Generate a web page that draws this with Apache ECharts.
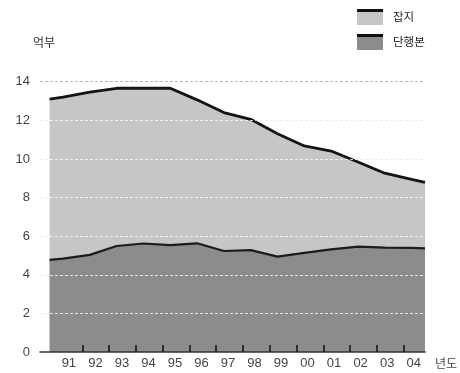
<!DOCTYPE html>
<html>
<head>
<meta charset="utf-8">
<script src="https://cdn.jsdelivr.net/npm/echarts@6/dist/echarts.min.js"></script>
<style>
html,body{margin:0;padding:0;background:#fff;}
#chart{width:460px;height:373px;}
</style>
</head>
<body>
<div id="chart"></div>
<script>
// ---- data ----
const yearLabels = ['91','92','93','94','95','96','97','98','99','00','01','02','03','04'];
// 단행본 (books) line values, 억부
const bookValues = [4.84, 5.03, 5.49, 5.62, 5.54, 5.63, 5.23, 5.28, 4.94, 5.13, 5.32, 5.46, 5.41, 5.39];
// top line (단행본 + 잡지 total), 억부
const totalValues = [13.2, 13.46, 13.66, 13.66, 13.66, 13.06, 12.4, 12.05, 11.3, 10.67, 10.41, 9.84, 9.26, 8.94];
// values where the areas meet the left / right edge of the plot
const bookEdges = [4.77, 5.37];
const totalEdges = [13.1, 8.79];
const yTickValues = [0, 2, 4, 6, 8, 10, 12, 14];
const seriesNames = ['잡지', '단행본'];
const unitLabel = '억부';
const xUnitLabel = '년도';

function buildSeries(values, edges) {
  const pts = [[-0.5, edges[0]]];
  values.forEach((v, i) => pts.push([i, v]));
  pts.push([values.length - 0.5, edges[1]]);
  return pts;
}

const FONT = 'Liberation Sans, Arial, sans-serif';
const KFONT = '"Noto Sans CJK KR", sans-serif';
const LIGHT = '#c6c6c6';
const DARK = '#8c8c8c';
const yMin = yTickValues[0], yMax = yTickValues[yTickValues.length - 1];
const yStep = yTickValues[1] - yTickValues[0];

const chart = echarts.init(document.getElementById('chart'), null, {renderer: 'canvas'});
chart.setOption({
  animation: false,
  backgroundColor: '#fff',
  grid: [
    {left: 40, right: 35, top: 81.7, bottom: 21},      // plot
    {left: 82.4, right: 56.4, top: 81.7, bottom: 21},  // tick marks between years
    {left: 55.6, right: 29.6, top: 81.7, bottom: 21}   // year labels
  ],
  xAxis: [
    {type: 'value', gridIndex: 0, min: -0.858, max: yearLabels.length - 0.5,
     axisLine: {show: true, onZero: false, lineStyle: {color: '#333', width: 1.6}},
     axisTick: {show: false}, axisLabel: {show: false}, splitLine: {show: false}, z: 4},
    {type: 'value', gridIndex: 1, min: 1, max: yearLabels.length - 1, interval: 1, z: 5,
     axisLine: {show: false, onZero: false},
     axisTick: {show: true, inside: true, length: 7, lineStyle: {color: '#111', width: 1.5}},
     axisLabel: {show: false}, splitLine: {show: false}},
    {type: 'category', gridIndex: 2, data: yearLabels, boundaryGap: true,
     axisLine: {show: false, onZero: false}, axisTick: {show: false},
     axisLabel: {margin: 5, fontSize: 13, color: '#444', fontFamily: FONT},
     name: xUnitLabel, nameLocation: 'end', nameGap: 8,
     nameTextStyle: {fontSize: 12, color: '#444', fontFamily: KFONT, align: 'left', verticalAlign: 'top', padding: [5, 0, 0, 0]}}
  ],
  yAxis: [
    {type: 'value', gridIndex: 0, min: yMin, max: yMax, interval: yStep,
     axisLine: {show: false}, axisTick: {show: false},
     axisLabel: {margin: 10, fontSize: 13, color: '#444', fontFamily: FONT},
     splitLine: {show: true, showMinLine: false, lineStyle: {color: '#b8b8b8', type: [3, 2], width: 1}},
     name: unitLabel, nameLocation: 'end', nameGap: 33,
     nameTextStyle: {fontSize: 12, color: '#333', fontFamily: KFONT, align: 'right', padding: [0, 8, 0, 0]}},
    {type: 'value', gridIndex: 0, min: yMin, max: yMax, interval: yStep, z: 3,
     axisLine: {show: false}, axisTick: {show: false}, axisLabel: {show: false},
     splitLine: {show: true, showMinLine: false, showMaxLine: false, lineStyle: {color: 'rgba(255,255,255,0.75)', type: [3, 2], width: 1}}},
    {type: 'value', gridIndex: 1, min: 0, max: 1, show: false},
    {type: 'value', gridIndex: 2, min: 0, max: 1, show: false}
  ],
  legend: {
    orient: 'vertical', left: 357, top: 9, padding: 0,
    itemWidth: 26, itemHeight: 16, itemGap: 9, icon: 'rect',
    data: seriesNames,
    textStyle: {fontSize: 11.5, color: '#222', fontFamily: KFONT, padding: [0, 0, 0, 5]}
  },
  graphic: [
    {type: 'rect', left: 357, top: 9, shape: {width: 26, height: 3}, style: {fill: '#111'}, z: 100},
    {type: 'rect', left: 357, top: 34, shape: {width: 26, height: 3}, style: {fill: '#111'}, z: 100}
  ],
  series: [
    {name: seriesNames[0], type: 'line', xAxisIndex: 0, yAxisIndex: 0,
     data: buildSeries(totalValues, totalEdges), symbol: 'none',
     itemStyle: {color: LIGHT},
     lineStyle: {color: '#141414', width: 2.8},
     areaStyle: {color: LIGHT, opacity: 1}, z: 2},
    {name: seriesNames[1], type: 'line', xAxisIndex: 0, yAxisIndex: 0,
     data: buildSeries(bookValues, bookEdges), symbol: 'none',
     itemStyle: {color: DARK},
     lineStyle: {color: '#1c1c1c', width: 2.2},
     areaStyle: {color: DARK, opacity: 1}, z: 2}
  ]
});
</script>
</body>
</html>
